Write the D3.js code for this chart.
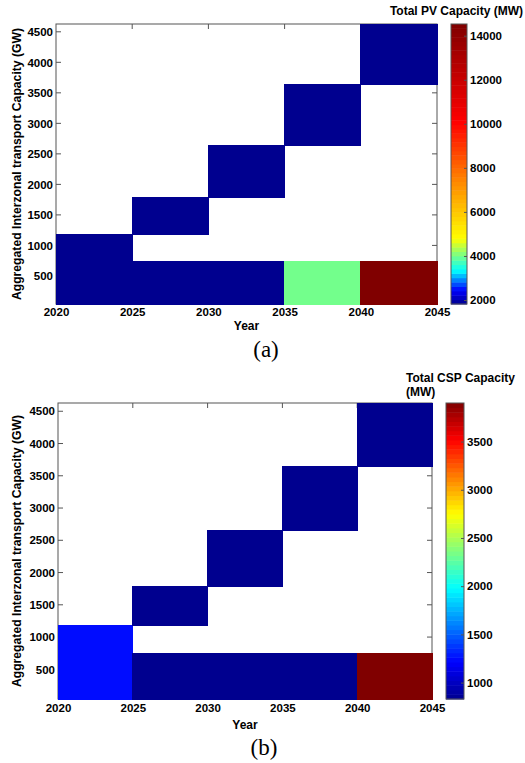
<!DOCTYPE html>
<html>
<head>
<meta charset="utf-8">
<script src="https://cdn.jsdelivr.net/npm/d3@7"></script>
<style>
  body { margin: 0; background: white; }
  text { font-family: "Liberation Sans", Arial, sans-serif; }
</style>
</head>
<body>
<svg id="mainSvg" width="525" height="763"></svg>
<script>
// ---- data ----
var periodStart = [2020, 2025, 2030, 2035, 2040];      // each column spans 5 years
var periodEnd   = [2025, 2030, 2035, 2040, 2045];
var lowBandBottom = [40, 40, 40, 40, 40];             // GW
var lowBandTop    = [1180, 740, 740, 740, 740];
var upBandBottom  = [null, 1180, 1790, 2645, 3642];
var upBandTop     = [null, 1790, 2645, 3642, 4628];

var pvLow  = [1820, 1820, 1820, 4000, 14530];          // MW
var pvUp   = [null, 1820, 1820, 1820, 1820];
var cspLow = [1250, 830, 830, 830, 3900];
var cspUp  = [null, 830, 830, 830, 830];

var yearTicks = [2020, 2025, 2030, 2035, 2040, 2045];
var capTicks  = [500, 1000, 1500, 2000, 2500, 3000, 3500, 4000, 4500];
var pvTicks   = [2000, 4000, 6000, 8000, 10000, 12000, 14000];
var cspTicks  = [1000, 1500, 2000, 2500, 3000, 3500];
var capRange  = [40, 4628];
var pvRange   = [1820, 14530];
var cspRange  = [830, 3900];

// colour maps (the PV one is stretched in its upper part, the CSP one is plain jet)
var pvStopFrac  = [0, 0.05, 0.12, 0.234, 0.45, 0.65, 1];
var pvStopCol   = ["#00008f", "#0000ff", "#00ffff", "#ffff00", "#ff8000", "#ff0000", "#800000"];
var jetStopFrac = [0, 0.125, 0.375, 0.625, 0.875, 1];
var jetStopCol  = ["#00008f", "#0000ff", "#00ffff", "#ffff00", "#ff0000", "#800000"];

var axisColor = "#555";

function drawPanel(svg, p)
{
    const g = svg.append("g");
    const x = d3.scaleLinear().domain([2020, 2045]).range([p.left, p.right]);
    const y = d3.scaleLinear().domain(capRange).range([p.bottom, p.top]);
    const color = d3.scaleLinear()
        .domain(p.stopFrac.map(f => p.range[0] + f * (p.range[1] - p.range[0])))
        .range(p.stopCol)
        .interpolate(d3.interpolateRgb)
        .clamp(true);

    // frame + inner ticks (MATLAB style)
    g.append("rect")
        .attr("x", p.left).attr("y", p.top)
        .attr("width", p.right - p.left).attr("height", p.bottom - p.top)
        .attr("fill", "white").attr("stroke", axisColor).attr("stroke-width", 1);

    const inner = yearTicks.slice(1, -1);
    const tickGrp = g.append("g").attr("stroke", axisColor).attr("stroke-width", 1);
    inner.forEach(v => {
        tickGrp.append("line").attr("x1", x(v)).attr("x2", x(v)).attr("y1", p.bottom).attr("y2", p.bottom - 5);
        tickGrp.append("line").attr("x1", x(v)).attr("x2", x(v)).attr("y1", p.top).attr("y2", p.top + 5);
    });
    capTicks.forEach(v => {
        tickGrp.append("line").attr("x1", p.left).attr("x2", p.left + 5).attr("y1", y(v)).attr("y2", y(v));
        tickGrp.append("line").attr("x1", p.right).attr("x2", p.right - 5).attr("y1", y(v)).attr("y2", y(v));
    });

    // cells
    const cells = [];
    for (let i = 0; i < periodStart.length; i++) {
        cells.push({x0: periodStart[i], x1: periodEnd[i], y0: lowBandBottom[i], y1: lowBandTop[i], v: p.low[i]});
        if (p.up[i] !== null)
            cells.push({x0: periodStart[i], x1: periodEnd[i], y0: upBandBottom[i], y1: upBandTop[i], v: p.up[i]});
    }
    g.selectAll("rect.cell").data(cells).join("rect")
        .attr("class", "cell")
        .attr("x", d => x(d.x0))
        .attr("y", d => y(d.y1))
        .attr("width", d => x(d.x1) - x(d.x0))
        .attr("height", d => y(d.y0) - y(d.y1))
        .attr("fill", d => color(d.v))
        .attr("stroke", d => color(d.v))
        .attr("stroke-width", 1)
        .attr("shape-rendering", "crispEdges");

    // axes labels
    const xAxis = d3.axisBottom(x).tickValues(yearTicks).tickFormat(d3.format("d"))
        .tickSize(0).tickPadding(p.xPad);
    const yAxis = d3.axisLeft(y).tickValues(capTicks).tickFormat(d3.format("d"))
        .tickSize(0).tickPadding(3);
    const xg = g.append("g").attr("transform", `translate(0, ${p.bottom})`).call(xAxis);
    const yg = g.append("g").attr("transform", `translate(${p.left}, 0)`).call(yAxis);
    [xg, yg].forEach(a => {
        a.select(".domain").remove();
        a.selectAll("text").attr("fill", "black").attr("font-size", "11.5px")
            .attr("font-weight", "bold").attr("font-family", "Liberation Sans, Arial, sans-serif");
    });

    g.append("text")
        .attr("x", (p.left + p.right) / 2).attr("y", p.yearY)
        .attr("text-anchor", "middle").attr("font-size", "12px").attr("font-weight", "bold")
        .text("Year");

    g.append("text")
        .attr("transform", `translate(17, ${(p.top + p.bottom) / 2}) rotate(-90)`)
        .attr("text-anchor", "middle").attr("dominant-baseline", "central")
        .attr("font-size", "12.2px").attr("font-weight", "bold")
        .text("Aggregated Interzonal transport Capacity (GW)");

    g.append("text")
        .attr("x", p.capX).attr("y", p.capY)
        .attr("text-anchor", "middle").attr("font-size", "23px")
        .style("font-family", "Liberation Serif, Times New Roman, serif")
        .text(p.caption);

    // colour bar
    const cb = d3.scaleLinear().domain(p.range).range([p.bottom, p.top]);
    const nLev = 64;
    const levels = d3.range(nLev);
    const step = (p.range[1] - p.range[0]) / nLev;
    g.selectAll("rect.cb").data(levels).join("rect")
        .attr("class", "cb")
        .attr("x", p.cbX).attr("width", p.cbW)
        .attr("y", d => cb(p.range[0] + (d + 1) * step))
        .attr("height", d => cb(p.range[0] + d * step) - cb(p.range[0] + (d + 1) * step) + 0.5)
        .attr("fill", d => color(p.range[0] + (d + 0.5) * step));
    g.append("rect")
        .attr("x", p.cbX).attr("y", p.top).attr("width", p.cbW).attr("height", p.bottom - p.top)
        .attr("fill", "none").attr("stroke", axisColor).attr("stroke-width", 1);
    const cbAxis = d3.axisRight(cb).tickValues(p.cbTicks).tickFormat(d3.format("d"))
        .tickSize(-3).tickPadding(3);
    const cbg = g.append("g").attr("transform", `translate(${p.cbX + p.cbW}, 0)`).call(cbAxis);
    cbg.select(".domain").remove();
    cbg.selectAll("line").attr("stroke", axisColor);
    cbg.selectAll("text").attr("fill", "black").attr("font-size", "11.5px").attr("font-weight", "bold");

    p.title.forEach((t, i) => {
        g.append("text")
            .attr("x", p.titleX).attr("y", p.titleY + i * 14)
            .attr("text-anchor", p.titleAnchor)
            .attr("font-size", "12px").attr("font-weight", "bold")
            .text(t);
    });
}

function init()
{
    const svg = d3.select("#mainSvg");
    svg.append("rect").attr("width", 525).attr("height", 763).attr("fill", "white");
    drawPanel(svg, {
        left: 56, right: 437, top: 24, bottom: 304,
        low: pvLow, up: pvUp, range: pvRange, stopFrac: pvStopFrac, stopCol: pvStopCol,
        cbX: 451, cbW: 16, cbTicks: pvTicks,
        title: ["Total PV Capacity (MW)"], titleX: 523, titleY: 15, titleAnchor: "end",
        xPad: 4, yearY: 330, caption: "(a)", capX: 266, capY: 357
    });
    drawPanel(svg, {
        left: 58, right: 432, top: 403, bottom: 699,
        low: cspLow, up: cspUp, range: cspRange, stopFrac: jetStopFrac, stopCol: jetStopCol,
        cbX: 446, cbW: 18, cbTicks: cspTicks,
        title: ["Total CSP Capacity", "(MW)"], titleX: 406, titleY: 382, titleAnchor: "start",
        xPad: 5, yearY: 729, caption: "(b)", capX: 264, capY: 755
    });
}
window.addEventListener("load", init);
</script>
</body>
</html>
